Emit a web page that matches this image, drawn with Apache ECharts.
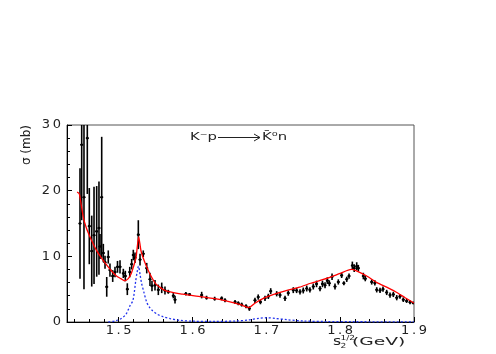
<!DOCTYPE html>
<html><head><meta charset="utf-8">
<script src="https://cdn.jsdelivr.net/npm/echarts@6/dist/echarts.min.js"></script>
<style>html,body{margin:0;padding:0;background:#fff}#c{width:496px;height:354px}</style>
</head><body><div id="c"></div>
<script>
// measured cross sections (x = sqrt(s2) GeV, y = sigma mb, err = mb)
const dataX = [1.4476,1.4499,1.4530,1.4575,1.4602,1.4635,1.4666,1.4702,1.4733,1.4747,1.4770,1.4792,1.4815,1.4838,1.4859,1.4882,1.4919,1.4950,1.4984,1.5018,1.5063,1.5090,1.5117,1.5150,1.5176,1.5198,1.5221,1.5266,1.5289,1.5333,1.5380,1.5424,1.5451,1.5492,1.5537,1.5583,1.5627,1.5672,1.5740,1.5763,
 1.5910,1.5960,1.6124,1.6190,1.6300,1.6395,1.6440,1.6576,1.6620,1.6666,1.6725,1.6770,1.6846,1.6890,1.6920,1.6982,1.7027,1.7059,1.7140,1.7185,1.7253,1.7297,1.7365,1.7410,1.7456,1.7500,1.7547,1.7590,1.7636,1.7680,1.7727,1.7760,1.7795,1.7826,1.7853,1.7890,1.7930,1.7975,1.8020,1.8050,1.8089,1.8120,1.8165,1.8190,1.8224,1.8246,1.8314,1.8340,1.8427,1.8470,1.8495,1.8540,1.8580,1.8630,1.8675,1.8720,1.8766,1.8810,1.8855,1.8900,1.8946,1.8990];
const dataY = [15.0,27.0,19.0,28.0,14.6,10.8,13.2,13.8,14.3,11.5,19.0,10.5,9.1,5.35,9.9,7.9,7.0,7.6,8.4,8.4,7.4,7.0,5.0,7.6,8.8,10.2,9.8,13.3,9.5,10.4,8.2,6.5,5.5,5.6,4.9,5.2,4.8,4.6,4.0,3.4,
 4.3,4.2,4.1,3.7,3.55,3.6,3.3,3.05,2.85,2.65,2.4,2.05,3.3,3.8,3.05,3.6,3.9,4.7,4.3,4.1,3.6,4.4,4.85,4.8,4.6,4.8,5.1,4.9,5.4,5.8,5.1,5.8,5.6,6.3,5.9,6.9,5.4,6.1,7.1,5.9,6.5,7.0,8.6,8.2,8.5,8.2,7.0,6.6,6.1,5.95,4.9,4.8,5.0,4.5,4.1,4.2,3.7,3.9,3.4,3.2,3.0,2.9];
const dataErr = [8.4,11.5,14.0,8.5,5.8,5.4,7.4,6.9,7.1,1.9,9.2,1.4,1.0,1.5,1.0,1.0,0.9,0.8,0.9,1.0,0.7,0.8,0.9,0.8,0.8,0.8,0.8,2.2,0.9,0.5,0.8,1.0,0.8,0.8,0.8,0.8,0.6,0.3,0.4,0.6,
 0.25,0.2,0.5,0.3,0.3,0.3,0.3,0.3,0.3,0.3,0.3,0.35,0.4,0.4,0.35,0.4,0.4,0.45,0.4,0.4,0.4,0.4,0.45,0.4,0.4,0.45,0.45,0.4,0.45,0.5,0.4,0.5,0.45,0.5,0.45,0.5,0.45,0.4,0.4,0.3,0.4,0.4,0.6,0.6,0.6,0.5,0.5,0.4,0.4,0.4,0.4,0.4,0.4,0.4,0.4,0.4,0.4,0.35,0.35,0.3,0.3,0.2];
// total fit (red)
const fitX = [1.4437,1.4467,1.452,1.456,1.463,1.470,1.477,1.483,1.490,1.497,1.503,1.508,1.513,1.5167,1.520,1.5235,1.5271,1.5302,1.5347,1.5415,1.5506,1.564,1.5867,1.6138,1.630,1.642,1.655,1.666,1.676,1.685,1.696,1.710,1.728,1.745,1.760,1.775,1.786,1.800,1.815,1.822,1.836,1.850,1.863,1.875,1.888,1.900];
const fitY = [19.8,19.5,16.0,14.4,12.5,10.9,9.7,8.8,7.8,7.0,6.6,6.26,6.6,7.3,8.4,9.8,13.0,10.85,9.3,7.5,5.76,4.74,4.23,3.82,3.55,3.3,2.95,2.6,2.2,2.9,3.6,4.2,4.8,5.3,5.9,6.4,6.8,7.4,8.0,7.8,7.0,6.0,5.3,4.6,3.7,2.9];
// resonance contribution (blue dotted)
const compX = [1.486,1.495,1.503,1.510,1.515,1.519,1.521,1.523,1.525,1.5268,1.529,1.531,1.534,1.538,1.542,1.546,1.552,1.560,1.570,1.583,1.600,1.630,1.660,1.675,1.690,1.700,1.712,1.728,1.750,1.780,1.820,1.900];
const compY = [0,0.15,0.5,1.2,2.4,3.2,4.4,6.2,7.6,8.5,7.2,5.9,4.6,3.0,2.2,1.7,1.2,0.8,0.5,0.25,0.12,0.1,0.15,0.3,0.55,0.65,0.55,0.35,0.15,0.07,0.04,0.02];
const xTickValues = [1.5,1.6,1.7,1.8,1.9];
const yTickValues = [0,10,20,30];

const T = '\u2009';
const spaced = s => s.split('').join(T);
const FONT = 'DejaVu Sans';

const points = dataX.map((x,i)=>[x, dataY[i], dataErr[i]]);
const fit = fitX.map((x,i)=>[x, fitY[i]]);
const comp = compX.map((x,i)=>[x, compY[i]]);

const chart = echarts.init(document.getElementById('c'), null, {renderer:'canvas'});
chart.setOption({
  animation:false,
  backgroundColor:'#fff',
  grid:{left:67, top:125, right:82, bottom:32, show:true, borderColor:'#555', borderWidth:1, backgroundColor:'transparent'},
  xAxis:{type:'value', min:1.43, max:1.9, splitNumber:5,
    axisLine:{show:true, onZero:false, lineStyle:{color:'#000', width:1}},
    axisTick:{show:true, inside:true, length:5, lineStyle:{color:'#000'}},
    minorTick:{show:true, splitNumber:5, length:3, lineStyle:{color:'#000'}},
    splitLine:{show:false},
    axisLabel:{margin:2, fontSize:13, fontFamily:FONT, color:'#222',
      formatter:v=>{const k=xTickValues.find(t=>Math.abs(t-v)<1e-6); return k===undefined?'':spaced(k.toFixed(1));}}
  },
  yAxis:{type:'value', min:0, max:30, interval:10,
    axisLine:{show:true, lineStyle:{color:'#000', width:1}},
    axisTick:{show:true, inside:true, length:5, lineStyle:{color:'#000'}},
    minorTick:{show:true, splitNumber:5, length:3, lineStyle:{color:'#000'}},
    splitLine:{show:false},
    axisLabel:{margin:6, fontSize:13, fontFamily:FONT, color:'#222',
      formatter:v=>yTickValues.includes(v)?spaced(String(v)):''}
  },
  series:[
    {type:'custom', name:'data', clip:true, data:points, z:3,
      renderItem:(params, api)=>{
        const x=api.value(0), y=api.value(1), e=api.value(2);
        const c=api.coord([x,y]), t=api.coord([x,y+e]), b=api.coord([x,y-e]);
        return {type:'group', children:[
          {type:'line', shape:{x1:c[0],y1:t[1],x2:c[0],y2:b[1]}, style:{stroke:'#000', lineWidth:1.6}},
          {type:'line', shape:{x1:c[0]-1.5,y1:c[1],x2:c[0]+1.5,y2:c[1]}, style:{stroke:'#000', lineWidth:1.4}},
          {type:'circle', shape:{cx:c[0],cy:c[1],r:1.3}, style:{fill:'#000'}}
        ]};
      }},
    {type:'line', name:'component', data:comp, showSymbol:false, smooth:0.3, z:4,
      lineStyle:{color:'#2233ee', width:1.3, type:[2,2]}},
    {type:'line', name:'fit', data:fit, showSymbol:false, smooth:0.2, z:5,
      lineStyle:{color:'#ff0000', width:1.3}}
  ],
  graphic:[
    {type:'text', x:27, y:125, rotation:Math.PI/2, style:{text:'σ (mb)', font:'12px "DejaVu Sans"', fill:'#222', align:'right', verticalAlign:'middle'}},
    {type:'text', x:190, y:137, scaleX:1.35, style:{text:'K⁻p', font:'11px "DejaVu Sans"', fill:'#222', align:'left', verticalAlign:'middle'}},
    {type:'polyline', shape:{points:[[218,137.5],[260,137.5]]}, style:{stroke:'#222', lineWidth:1}},
    {type:'polyline', shape:{points:[[254,134],[260,137.5],[254,141]]}, style:{stroke:'#222', lineWidth:1, fill:null}},
    {type:'text', x:262, y:137, scaleX:1.35, style:{text:'K̄⁰n', font:'11px "DejaVu Sans"', fill:'#222', align:'left', verticalAlign:'middle'}},
    {type:'text', x:333, y:342, scaleX:1.3, style:{text:'s', font:'12px "DejaVu Sans"', fill:'#222', align:'left', verticalAlign:'middle'}},
    {type:'text', x:340.5, y:346.5, scaleX:1.3, style:{text:'2', font:'7px "DejaVu Sans"', fill:'#222', align:'left', verticalAlign:'middle'}},
    {type:'text', x:340.5, y:338, scaleX:1.3, style:{text:'1/2', font:'7px "DejaVu Sans"', fill:'#222', align:'left', verticalAlign:'middle'}},
    {type:'text', x:352, y:342, scaleX:1.7, style:{text:'(GeV)', font:'11px "DejaVu Sans"', fill:'#222', align:'left', verticalAlign:'middle'}}
  ]
});
</script></body></html>
